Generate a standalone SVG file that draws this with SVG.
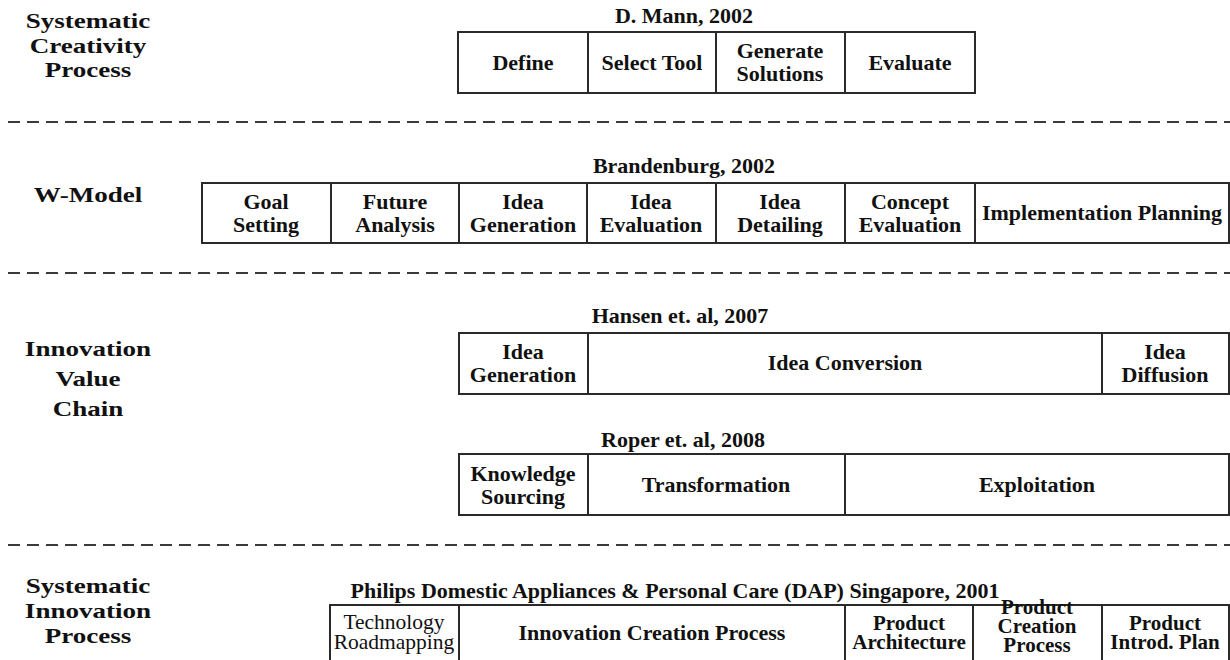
<svg xmlns="http://www.w3.org/2000/svg" width="1230" height="660" viewBox="0 0 1230 660">
<style>
.bg{fill:#ffffff}
.box{fill:#ffffff;stroke:#2a2a2a;stroke-width:2}
.div{stroke:#2a2a2a;stroke-width:2}
.sep{stroke:#3a3a3a;stroke-width:2;stroke-dasharray:12 7}
.t{font-family:"Liberation Serif","Times New Roman",serif;font-weight:bold;font-size:22px;fill:#111;text-anchor:middle}
.s{font-family:"Liberation Serif","Times New Roman",serif;font-weight:bold;font-size:21px;fill:#111;text-anchor:middle}
.r{font-family:"Liberation Serif","Times New Roman",serif;font-weight:normal;font-size:21.5px;fill:#111;text-anchor:middle}
.ttl{font-family:"Liberation Serif","Times New Roman",serif;font-weight:bold;font-size:22px;fill:#111;text-anchor:middle}
.lab{font-family:"Liberation Serif","Times New Roman",serif;font-weight:bold;font-size:22px;fill:#111;text-anchor:middle}
</style>
<rect class="bg" x="0" y="0" width="1230" height="660"/>

<g id="separators">
<line class="sep" x1="8" y1="122" x2="1230" y2="122"/>
<line class="sep" x1="8" y1="273" x2="1230" y2="273"/>
<line class="sep" x1="8" y1="545" x2="1230" y2="545"/>
</g>

<g id="label-scp" transform="translate(88,0) scale(1.23,1)">
<text class="lab" x="0" y="28">Systematic</text>
<text class="lab" x="0" y="53">Creativity</text>
<text class="lab" x="0" y="77">Process</text>
</g>
<g id="label-wmodel" transform="translate(88,0) scale(1.23,1)">
<text class="lab" x="0" y="202">W-Model</text>
</g>
<g id="label-ivc" transform="translate(88,0) scale(1.23,1)">
<text class="lab" x="0" y="356">Innovation</text>
<text class="lab" x="0" y="386">Value</text>
<text class="lab" x="0" y="416">Chain</text>
</g>
<g id="label-sip" transform="translate(88,0) scale(1.23,1)">
<text class="lab" x="0" y="593">Systematic</text>
<text class="lab" x="0" y="618">Innovation</text>
<text class="lab" x="0" y="643">Process</text>
</g>

<g id="mann">
<text class="ttl" x="684" y="23">D. Mann, 2002</text>
<rect class="box" x="458" y="32" width="517" height="61"/>
<line class="div" x1="588" y1="32" x2="588" y2="93"/>
<line class="div" x1="716" y1="32" x2="716" y2="93"/>
<line class="div" x1="845" y1="32" x2="845" y2="93"/>
<text class="t" x="523" y="70">Define</text>
<text class="t" x="652" y="70">Select Tool</text>
<text class="t" x="780" y="58">Generate</text>
<text class="t" x="780" y="81">Solutions</text>
<text class="t" x="910" y="70">Evaluate</text>
</g>

<g id="brandenburg">
<text class="ttl" x="684" y="173">Brandenburg, 2002</text>
<rect class="box" x="202" y="183" width="1027" height="60"/>
<line class="div" x1="331" y1="183" x2="331" y2="243"/>
<line class="div" x1="459" y1="183" x2="459" y2="243"/>
<line class="div" x1="587" y1="183" x2="587" y2="243"/>
<line class="div" x1="716" y1="183" x2="716" y2="243"/>
<line class="div" x1="845" y1="183" x2="845" y2="243"/>
<line class="div" x1="975" y1="183" x2="975" y2="243"/>
<text class="t" x="266" y="209">Goal</text>
<text class="t" x="266" y="232">Setting</text>
<text class="t" x="395" y="209">Future</text>
<text class="t" x="395" y="232">Analysis</text>
<text class="t" x="523" y="209">Idea</text>
<text class="t" x="523" y="232">Generation</text>
<text class="t" x="651" y="209">Idea</text>
<text class="t" x="651" y="232">Evaluation</text>
<text class="t" x="780" y="209">Idea</text>
<text class="t" x="780" y="232">Detailing</text>
<text class="t" x="910" y="209">Concept</text>
<text class="t" x="910" y="232">Evaluation</text>
<text class="t" x="1102" y="220">Implementation Planning</text>
</g>

<g id="hansen">
<text class="ttl" x="680" y="323">Hansen et. al, 2007</text>
<rect class="box" x="459" y="333" width="770" height="61"/>
<line class="div" x1="588" y1="333" x2="588" y2="394"/>
<line class="div" x1="1102" y1="333" x2="1102" y2="394"/>
<text class="t" x="523" y="359">Idea</text>
<text class="t" x="523" y="382">Generation</text>
<text class="t" x="845" y="370">Idea Conversion</text>
<text class="t" x="1165" y="359">Idea</text>
<text class="t" x="1165" y="382">Diffusion</text>
</g>

<g id="roper">
<text class="ttl" x="683" y="447">Roper et. al, 2008</text>
<rect class="box" x="459" y="454" width="770" height="61"/>
<line class="div" x1="588" y1="454" x2="588" y2="515"/>
<line class="div" x1="845" y1="454" x2="845" y2="515"/>
<text class="t" x="523" y="481">Knowledge</text>
<text class="t" x="523" y="504">Sourcing</text>
<text class="t" x="716" y="492">Transformation</text>
<text class="t" x="1037" y="492">Exploitation</text>
</g>

<g id="philips">
<text class="ttl" x="675" y="598">Philips Domestic Appliances &amp; Personal Care (DAP) Singapore, 2001</text>
<rect class="box" x="330" y="605" width="899" height="80"/>
<line class="div" x1="459" y1="605" x2="459" y2="685"/>
<line class="div" x1="845" y1="605" x2="845" y2="685"/>
<line class="div" x1="973" y1="605" x2="973" y2="685"/>
<line class="div" x1="1102" y1="605" x2="1102" y2="685"/>
<text class="r" x="394" y="629">Technology</text>
<text class="r" x="394" y="649">Roadmapping</text>
<text class="t" x="652" y="640">Innovation Creation Process</text>
<text class="s" x="909" y="630">Product</text>
<text class="s" x="909" y="649">Architecture</text>
<text class="s" x="1037" y="614">Product</text>
<text class="s" x="1037" y="633">Creation</text>
<text class="s" x="1037" y="652">Process</text>
<text class="s" x="1165" y="630">Product</text>
<text class="s" x="1165" y="649">Introd.  Plan</text>
</g>
</svg>
